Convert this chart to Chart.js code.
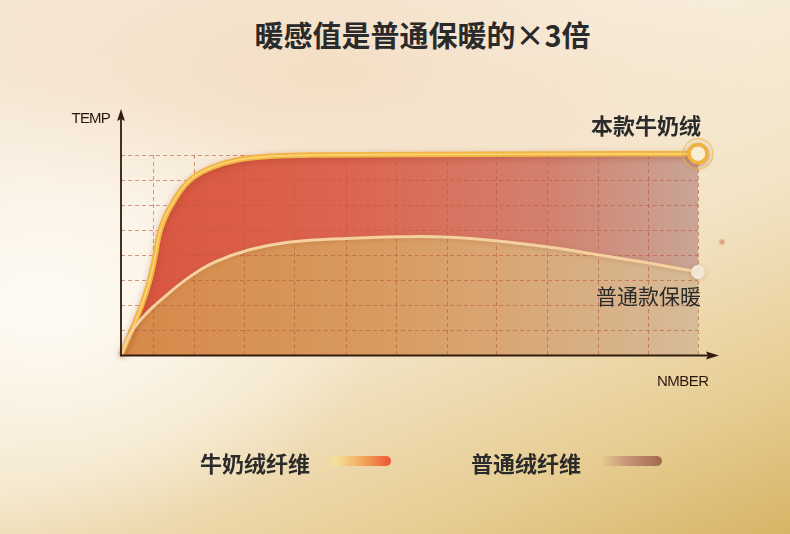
<!DOCTYPE html>
<html>
<head>
<meta charset="utf-8">
<script src="https://cdn.jsdelivr.net/npm/chart.js@4.4.0/dist/chart.umd.min.js"></script>
<style>
  html, body { margin: 0; padding: 0; }
  body {
    width: 790px; height: 534px; overflow: hidden; position: relative;
    font-family: "Noto Sans CJK SC", "Noto Sans", sans-serif;
    background:
      radial-gradient(ellipse 42% 42% at 6% 58%, rgba(255,252,246,0.95), rgba(255,252,246,0) 100%),
      radial-gradient(ellipse 55% 32% at 42% 14%, rgba(241,210,178,0.55), rgba(241,210,178,0) 100%),
      linear-gradient(158deg, #f6e8d6 0%, #f8eedd 30%, #f3e4c6 58%, #e7cd93 82%, #d8b466 100%);
  }
  #chart { position: absolute; left: 0; top: 0; }
  .title {
    position: absolute; left: 0; width: 845px; top: 20px; text-align: center;
    font-size: 29px; line-height: 29px; font-weight: 700; color: #2a2a2a;
  }
  .leg-text {
    position: absolute; top: 451px; font-size: 22px; line-height: 22px;
    font-weight: 700; color: #2b2b2b; white-space: nowrap;
  }
  .leg-bar { position: absolute; top: 456px; height: 10px; border-radius: 5px; }
  .spark {
    position: absolute; left: 718px; top: 238px; width: 8px; height: 8px; border-radius: 50%;
    background: radial-gradient(circle, rgba(214,128,88,0.9) 0%, rgba(214,128,88,0) 70%);
  }
</style>
</head>
<body>
<div class="title">暖感值是普通保暖的×3倍</div>
<canvas id="chart" width="790" height="534"></canvas>
<div class="spark"></div>
<div class="leg-text" style="left:200px">牛奶绒纤维</div>
<div class="leg-bar" style="left:325px;width:66px;background:linear-gradient(90deg, rgba(246,230,165,0) 0%, #f3de98 18%, #f1a75a 58%, #ee5332 100%);"></div>
<div class="leg-text" style="left:471px">普通绒纤维</div>
<div class="leg-bar" style="left:601px;width:61px;background:linear-gradient(90deg, rgba(222,184,140,0) 0%, #c99576 42%, #a06a50 100%);"></div>

<script>
// Series: warmth over time, in grid units (x = columns, y = rows)
const milkX = [0, 0.21, 0.41, 0.57, 0.68, 0.78, 1.0, 1.37, 1.8, 2.3, 3.0, 4.0, 6.0, 8.5, 11.45];
const milkY = [0, 1, 2, 3, 4, 5, 6, 7, 7.5, 7.8, 7.95, 8.0, 8.02, 8.04, 8.05];

const plainX = [0, 0.21, 0.54, 0.87, 1.20, 1.53, 1.87, 2.53, 3.19, 3.85, 4.84, 5.54, 6.53, 7.52, 8.51, 9.50, 10.50, 11.45];
const plainY = [0, 0.95, 1.75, 2.35, 2.90, 3.36, 3.74, 4.21, 4.48, 4.61, 4.70, 4.74, 4.72, 4.56, 4.32, 4.01, 3.68, 3.33];

// Grid positions
const gridX = [0.65, 1.45, 2.45, 3.45, 4.47, 5.47, 6.47, 7.45, 8.47, 9.47, 10.47, 11.45];
const xMax = 11.45;
const yMax = 8;

// Labels
const seriesNames = ['本款牛奶绒', '普通款保暖'];
const axisNames = { y: 'TEMP', x: 'NMBER' };

const toPoints = (xs, ys) => xs.map((x, i) => ({ x, y: ys[i] }));

function hGradient(stops) {
  return (ctx) => {
    const chart = ctx.chart;
    const a = chart.chartArea;
    if (!a) return 'rgba(0,0,0,0)';
    const g = chart.ctx.createLinearGradient(a.left, 0, a.right, 0);
    stops.forEach(([p, c]) => g.addColorStop(p, c));
    return g;
  };
}

const lastRadius = (r) => (ctx) => ctx.dataIndex === ctx.dataset.data.length - 1 ? r : 0;

const decor = {
  id: 'decor',
  beforeDatasetDraw(chart, args) {
    const ctx = chart.ctx;
    ctx.save();
    if (args.index === 0) {
      ctx.shadowColor = 'rgba(150,50,20,0.35)';
      ctx.shadowBlur = 6;
      ctx.shadowOffsetY = 2;
    } else {
      ctx.shadowColor = 'rgba(150,80,30,0.25)';
      ctx.shadowBlur = 4;
      ctx.shadowOffsetY = 1;
    }
  },
  afterDatasetDraw(chart, args) {
    const ctx = chart.ctx;
    ctx.restore();
    // light highlight along the milk-fibre line, then the end point again on top
    if (args.index === 0) {
      const meta = chart.getDatasetMeta(0);
      const line = meta.dataset;
      ctx.save();
      line.options.borderWidth = 1.6;
      line.options.borderColor = 'rgba(255,226,130,0.75)';
      line.draw(ctx, chart.chartArea);
      line.options.borderWidth = 5.5;
      line.options.borderColor = '#f2b545';
      meta.data.at(-1).draw(ctx, chart.chartArea);
      ctx.restore();
    }
  },
  afterDatasetsDraw(chart) {
    const ctx = chart.ctx;
    const xs = chart.scales.x, ys = chart.scales.y;
    const x0 = xs.getPixelForValue(0);
    const y0 = ys.getPixelForValue(0);
    const yTip = ys.getPixelForValue(yMax) - 46;
    const xTip = xs.getPixelForValue(xMax) + 21;

    // axes with arrow heads
    ctx.save();
    ctx.strokeStyle = '#321c10';
    ctx.fillStyle = '#321c10';
    ctx.lineWidth = 1.8;
    ctx.beginPath();
    ctx.moveTo(x0, y0 + 1);
    ctx.lineTo(x0, yTip + 8);
    ctx.moveTo(x0 - 1, y0);
    ctx.lineTo(xTip - 8, y0);
    ctx.stroke();
    ctx.beginPath();
    ctx.moveTo(x0, yTip);
    ctx.lineTo(x0 + 4, yTip + 12);
    ctx.lineTo(x0, yTip + 10);
    ctx.lineTo(x0 - 4, yTip + 12);
    ctx.closePath();
    ctx.fill();
    ctx.beginPath();
    ctx.moveTo(xTip, y0);
    ctx.lineTo(xTip - 13, y0 - 4);
    ctx.lineTo(xTip - 11, y0);
    ctx.lineTo(xTip - 13, y0 + 4);
    ctx.closePath();
    ctx.fill();

    // axis names
    ctx.fillStyle = '#2a170c';
    ctx.font = '15px "Liberation Sans", Arial, sans-serif';
    ctx.letterSpacing = '-0.8px';
    ctx.textBaseline = 'middle';
    ctx.textAlign = 'right';
    ctx.fillText(axisNames.y, x0 - 11, yTip + 10);
    ctx.textAlign = 'left';
    ctx.letterSpacing = '-0.5px';
    ctx.font = '15px "Liberation Sans", Arial, sans-serif';
    ctx.fillText(axisNames.x, xTip - 62, y0 + 26);
    ctx.letterSpacing = '0px';

    // halo around the end point of the first series
    const p1 = chart.getDatasetMeta(0).data.at(-1);
    ctx.strokeStyle = 'rgba(238,178,70,0.65)';
    ctx.lineWidth = 1.3;
    ctx.beginPath();
    ctx.arc(p1.x, p1.y, 15, 0, Math.PI * 2);
    ctx.stroke();

    // series names next to end points
    const p2 = chart.getDatasetMeta(1).data.at(-1);
    ctx.fillStyle = '#2b2b2b';
    ctx.textAlign = 'right';
    ctx.font = '700 22px "Noto Sans CJK SC", sans-serif';
    ctx.fillText(seriesNames[0], p1.x + 3, p1.y - 28);
    ctx.font = '400 21px "Noto Sans CJK SC", sans-serif';
    ctx.fillText(seriesNames[1], p2.x + 3, p2.y + 24);
    ctx.restore();
  }
};

const gridColor = (c) => (c.tick && c.tick.value === 0) ? 'rgba(0,0,0,0)' : 'rgba(186,88,58,0.6)';

new Chart(document.getElementById('chart'), {
  type: 'line',
  data: {
    datasets: [
      {
        label: seriesNames[0],
        data: toPoints(milkX, milkY),
        order: 2,
        fill: 'origin',
        tension: 0.4,
        borderColor: '#f2b545',
        borderWidth: 5.5,
        backgroundColor: hGradient([[0, '#d9553f'], [0.4, '#dc6551'], [0.75, '#d2826f'], [1, '#c9a597']]),
        pointRadius: lastRadius(9),
        pointHoverRadius: lastRadius(9),
        pointBackgroundColor: '#f8eed5',
        pointBorderColor: '#f0b23c',
        pointBorderWidth: 3.5,
        clip: false
      },
      {
        label: seriesNames[1],
        data: toPoints(plainX, plainY),
        order: 1,
        fill: 'origin',
        tension: 0.4,
        borderColor: '#f5d1a0',
        borderWidth: 3,
        backgroundColor: hGradient([[0, '#d6894a'], [0.45, '#d99b5f'], [0.8, '#d8ae83'], [1, '#d6bc98']]),
        pointRadius: lastRadius(7),
        pointHoverRadius: lastRadius(7),
        pointBackgroundColor: '#f1e7d4',
        pointBorderColor: '#f1e7d4',
        pointBorderWidth: 0,
        clip: false
      }
    ]
  },
  options: {
    responsive: false,
    animation: false,
    devicePixelRatio: 1,
    events: [],
    layout: { padding: { left: 121, right: 92, top: 155, bottom: 178.5 } },
    plugins: {
      legend: { display: false },
      tooltip: { enabled: false },
      // fills go down first so the dashed grid shows through them
      filler: { drawTime: 'beforeDraw' }
    },
    scales: {
      x: {
        type: 'linear',
        min: 0,
        max: xMax,
        afterBuildTicks: (s) => { s.ticks = [0, ...gridX].map(v => ({ value: v })); },
        afterFit: (s) => { s.height = 0; },
        ticks: { display: false },
        grid: { drawTicks: false, color: gridColor, lineWidth: 1 },
        border: { display: false, dash: [4, 3] }
      },
      y: {
        min: 0,
        max: yMax,
        afterFit: (s) => { s.width = 0; },
        ticks: { display: false, stepSize: 1 },
        grid: { drawTicks: false, color: gridColor, lineWidth: 1 },
        border: { display: false, dash: [4, 3] }
      }
    }
  },
  plugins: [decor]
});
</script>
</body>
</html>
